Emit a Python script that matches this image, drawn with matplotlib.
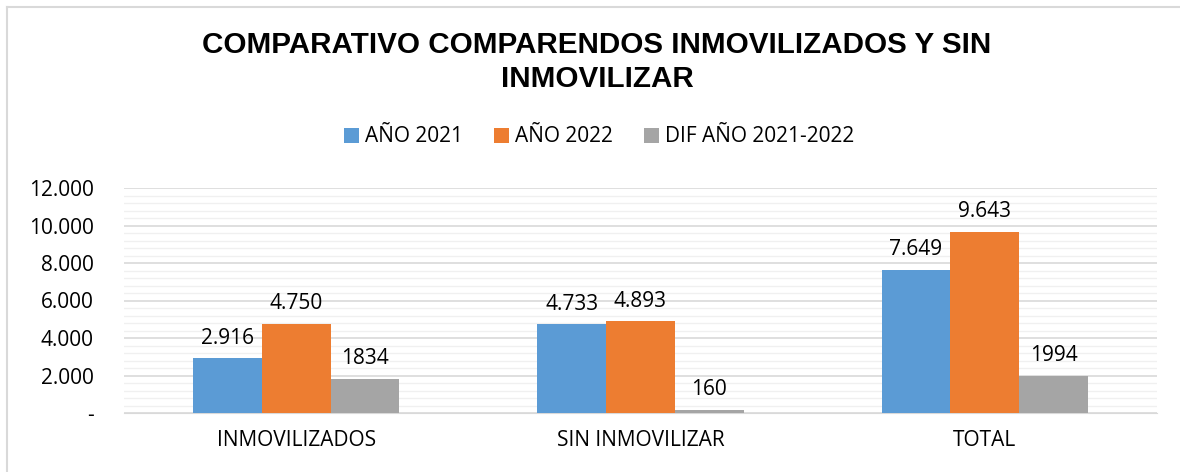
import matplotlib
matplotlib.use("Agg")
import matplotlib.pyplot as plt
import numpy as np
from matplotlib.lines import Line2D
from matplotlib.ticker import FuncFormatter, MultipleLocator

categories = ["INMOVILIZADOS", "SIN INMOVILIZAR", "TOTAL"]
anio_2021 = [2916, 4733, 7649]
anio_2022 = [4750, 4893, 9643]
dif_anio = [1834, 160, 1994]
series_names = ["AÑO 2021", "AÑO 2022", "DIF AÑO 2021-2022"]
colors = ["#5b9bd5", "#ed7d31", "#a5a5a5"]

plt.rcParams["font.family"] = ["Open Sans", "DejaVu Sans"]

W, H = 1180, 472
fig = plt.figure(figsize=(W / 100, H / 100), dpi=100)
ax = fig.add_axes([124 / W, 1 - 413 / H, (1157 - 124) / W, (413 - 188) / H])

x = np.arange(len(categories))
width = 0.2
series = [anio_2021, anio_2022, dif_anio]


def thousands(v):
    return f"{v:,.0f}".replace(",", ".")


for i, (vals, name, col) in enumerate(zip(series, series_names, colors)):
    pos = x + (i - 1) * width
    bars = ax.bar(pos, vals, width, color=col, label=name, zorder=3)
    for b, v in zip(bars, vals):
        txt = str(v) if i == 2 else thousands(v)
        ax.annotate(txt, (b.get_x() + b.get_width() / 2, v),
                    xytext=(0, 7), textcoords="offset points",
                    ha="center", va="bottom", fontsize=15, color="#000000")

ax.set_xlim(-0.5, 2.5)
ax.set_ylim(0, 12000)
ax.yaxis.set_major_locator(MultipleLocator(2000))
ax.yaxis.set_minor_locator(MultipleLocator(400))
ax.yaxis.set_major_formatter(FuncFormatter(lambda v, p: "-" if v == 0 else thousands(v)))
ax.grid(axis="y", which="major", color="#d9d9d9", linewidth=1.2, zorder=0)
ax.grid(axis="y", which="minor", color="#f0f0f0", linewidth=1.0, zorder=0)
ax.set_xticks(x)
ax.set_xticklabels(categories)
ax.tick_params(axis="both", which="both", length=0, labelsize=15, colors="#000000")
ax.tick_params(axis="x", pad=12)
ax.tick_params(axis="y", pad=22)
for s in ["top", "right", "left"]:
    ax.spines[s].set_visible(False)
ax.spines["bottom"].set_color("#d9d9d9")

fig.text(0.506, 1 - 62 / H, "COMPARATIVO COMPARENDOS INMOVILIZADOS Y SIN\nINMOVILIZAR",
         ha="center", va="center", fontsize=21.3, fontweight="bold",
         family=["Liberation Sans", "DejaVu Sans"], linespacing=1.3)

fig.legend(loc="center", bbox_to_anchor=(0.508, 1 - 137 / H), ncol=3, frameon=False,
           fontsize=15, handlelength=0.7, handleheight=0.7, handletextpad=0.3,
           columnspacing=1.5)

# chart frame (left and top edges visible)
fig.add_artist(Line2D([6.5 / W, 6.5 / W], [0, 1 - 6.5 / H], transform=fig.transFigure,
                      color="#d9d9d9", linewidth=1.5))
fig.add_artist(Line2D([6.5 / W, 1], [1 - 6.5 / H, 1 - 6.5 / H], transform=fig.transFigure,
                      color="#d9d9d9", linewidth=1.5))

fig.savefig("out.png", dpi=100)
